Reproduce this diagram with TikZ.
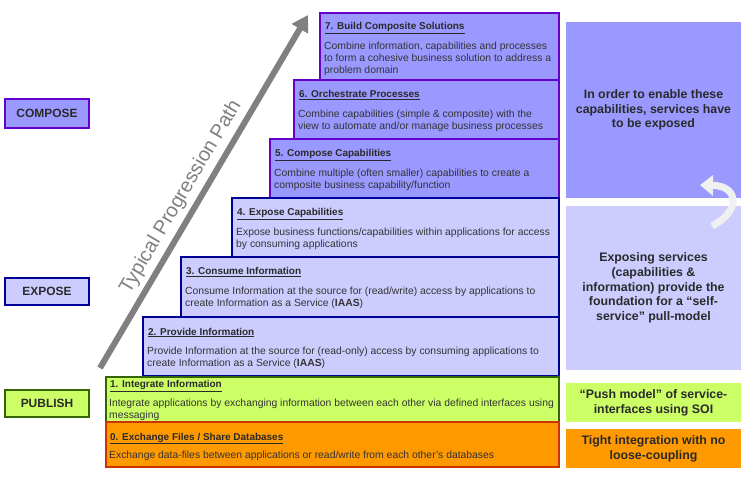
\documentclass[tikz,border=0pt]{standalone}
\usepackage{fontspec}
\setmainfont{Liberation Sans}
\usetikzlibrary{arrows.meta}
\definecolor{purFill}{HTML}{9999FF}
\definecolor{purLine}{HTML}{6600CC}
\definecolor{lilFill}{HTML}{CCCCFF}
\definecolor{navLine}{HTML}{000099}
\definecolor{grnFill}{HTML}{CCFF66}
\definecolor{grnLine}{HTML}{336600}
\definecolor{orgFill}{HTML}{FF9900}
\definecolor{orgLine}{HTML}{CC3300}
\definecolor{txt}{HTML}{2A2A2A}
\definecolor{bodytxt}{HTML}{333333}
\definecolor{arrowgray}{HTML}{808080}
\tikzset{
  stepbox/.style={rectangle, draw, line width=2.5bp, inner sep=0pt, outer sep=0pt, anchor=north west},
  ttl/.style={anchor=base west, inner sep=0pt, font=\fontsize{10}{12}\selectfont\bfseries, text=txt},
  bdy/.style={anchor=north west, inner sep=0pt, align=left, font=\fontsize{10.4}{12}\selectfont, text=bodytxt},
  sidebox/.style={rectangle, inner sep=0pt, outer sep=0pt, anchor=north west, align=center, font=\fontsize{12.4}{14.8}\selectfont\bfseries, text=txt},
  lvl/.style={rectangle, draw, line width=2bp, inner sep=0pt, outer sep=0pt, anchor=north west, minimum width=84bp, font=\fontsize{12}{14}\selectfont\bfseries, text=txt}
}
\begin{document}
\begin{tikzpicture}[x=1bp,y=-1bp]
\useasboundingbox (0,0) rectangle (750,477);
\fill[white] (0,0) rectangle (750,477);

% big progression arrow
\draw[line width=6bp, arrowgray, -{Triangle[length=16bp,width=18bp]}] (100,368) coordinate (pa) -- (308,15) coordinate (pb);
\node[rotate=59.5, text=arrowgray, font=\fontsize{20}{22}\selectfont, inner sep=0pt] (pathlbl) at (181,197) {Typical Progression Path};

% staircase
\node[stepbox, draw=purLine, fill=purFill, minimum width=239bp, minimum height=67bp] (b7) at (320,13) {};
\node[ttl] (t7) at (325,30) {\underline{7. Build Composite Solutions}};
\node[bdy] (d7) at (324,41.5) {Combine information, capabilities and processes\\to form a cohesive business solution to address a\\problem domain};

\node[stepbox, draw=purLine, fill=purFill, minimum width=265bp, minimum height=59bp] (b6) at (294,80) {};
\node[ttl] (t6) at (299,98) {\underline{6. Orchestrate Processes}};
\node[bdy] (d6) at (298,109.5) {Combine capabilities (simple \& composite) with the\\view to automate and/or manage business processes};

\node[stepbox, draw=purLine, fill=purFill, minimum width=289bp, minimum height=59bp] (b5) at (270,139) {};
\node[ttl] (t5) at (275,157) {\underline{5. Compose Capabilities}};
\node[bdy] (d5) at (274,168.5) {Combine multiple (often smaller) capabilities to create a\\composite business capability/function};

\node[stepbox, draw=navLine, fill=lilFill, minimum width=327bp, minimum height=59bp] (b4) at (232,198) {};
\node[ttl] (t4) at (237,216) {\underline{4. Expose Capabilities}};
\node[bdy] (d4) at (236,227.5) {Expose business functions/capabilities within applications for access\\by consuming applications};

\node[stepbox, draw=navLine, fill=lilFill, minimum width=378bp, minimum height=60bp] (b3) at (181,257) {};
\node[ttl] (t3) at (186,275) {\underline{3. Consume Information}};
\node[bdy] (d3) at (185,286.5) {Consume Information at the source for (read/write) access by applications to\\create Information as a Service (\textbf{IAAS})};

\node[stepbox, draw=navLine, fill=lilFill, minimum width=416bp, minimum height=59bp] (b2) at (143,317) {};
\node[ttl] (t2) at (148,335) {\underline{2. Provide Information}};
\node[bdy] (d2) at (147,346.5) {Provide Information at the source for (read-only) access by consuming applications to\\create Information as a Service (\textbf{IAAS})};

\node[stepbox, draw=grnLine, fill=grnFill, minimum width=453bp, minimum height=45bp] (b1) at (106,377) {};
\node[ttl] (t1) at (110,387.5) {\underline{1. Integrate Information}};
\node[bdy] (d1) at (109,398.5) {Integrate applications by exchanging information between each other via defined interfaces using\\messaging};

\node[stepbox, draw=orgLine, fill=orgFill, minimum width=453bp, minimum height=45bp] (b0) at (106,422) {};
\node[ttl] (t0) at (110,440) {\underline{0. Exchange Files / Share Databases}};
\node[bdy] (d0) at (109,451) {Exchange data-files between applications or read/write from each other’s databases};

% left level labels
\node[lvl, draw=purLine, fill=purFill, minimum height=29bp] (compose) at (5,99) {COMPOSE};
\node[lvl, draw=navLine, fill=lilFill, minimum height=27bp] (expose) at (5,278) {EXPOSE};
\node[lvl, draw=grnLine, fill=grnFill, minimum height=27bp] (publish) at (5,390) {PUBLISH};

% right side boxes
\node[sidebox, fill=purFill, minimum width=175bp, minimum height=176bp] (r1) at (566,22) {In order to enable these\\capabilities, services have\\to be exposed};
\node[sidebox, fill=lilFill, minimum width=175bp, minimum height=164bp] (r2) at (566,206) {Exposing services\\(capabilities \&\\information) provide the\\foundation for a “self-\\service” pull-model};
\node[sidebox, fill=grnFill, minimum width=175bp, minimum height=39bp] (r3) at (566,383) {“Push model” of service-\\interfaces using SOI};
\node[sidebox, fill=orgFill, minimum width=175bp, minimum height=39bp] (r4) at (566,429) {Tight integration with no\\loose-coupling};

% curved pale arrow
\coordinate (ca) at (712,226);
\coordinate (cb) at (700,185);
\draw[line width=7bp, white!88!gray, -{Triangle[length=13bp,width=20bp]}] (ca) .. controls (740,212) and (740,186) .. (cb);
\end{tikzpicture}
\end{document}
